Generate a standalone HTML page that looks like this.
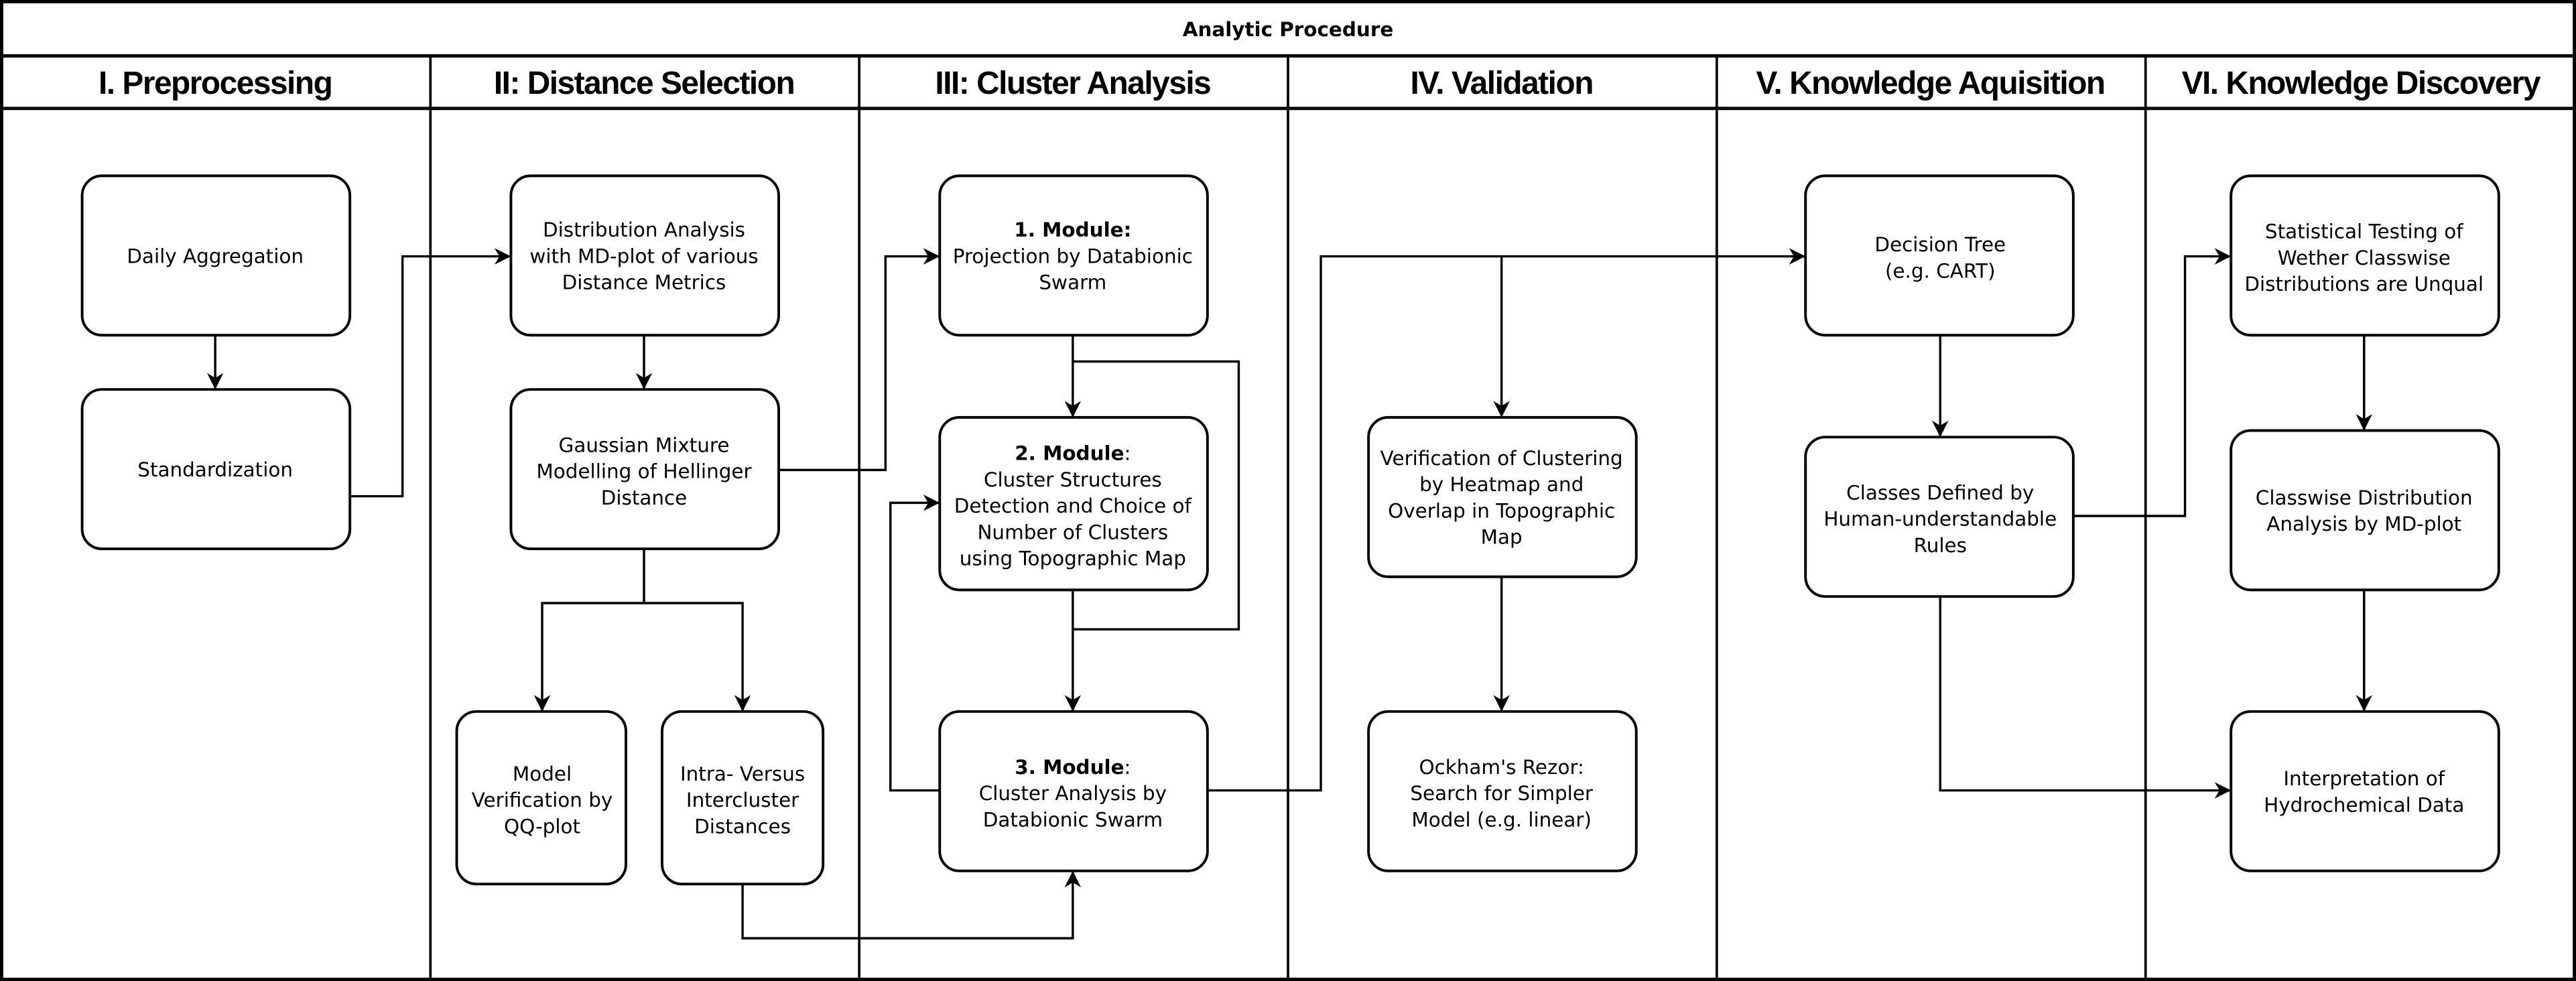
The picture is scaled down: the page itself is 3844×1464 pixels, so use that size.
<!DOCTYPE html>
<html><head><meta charset="utf-8"><style>
html,body{margin:0;padding:0;background:#fff;}
svg{display:block;}
.t{font-family:"DejaVu Sans","Liberation Sans",sans-serif;font-size:12px;text-anchor:middle;fill:#000;}
.h{font-family:"Liberation Sans",sans-serif;font-weight:bold;font-size:19.5px;text-anchor:middle;fill:#000;letter-spacing:-0.6px;}
.b{fill:#fff;stroke:#000;stroke-width:1.6;}
.e{fill:none;stroke:#000;stroke-width:1.4;}
</style></head><body>
<svg width="3844" height="1464" viewBox="0 0 1568 597" preserveAspectRatio="none" xmlns="http://www.w3.org/2000/svg">
<defs>
<marker id="a" viewBox="0 0 10 10" refX="10" refY="5" markerWidth="11" markerHeight="10" markerUnits="userSpaceOnUse" orient="auto">
<path d="M0,0 L10,5 L0,10 L3,5 Z" fill="#000"/>
</marker>
</defs>
<rect x="0" y="0" width="1568" height="597" fill="#fff"/>
<rect x="1" y="1" width="1566" height="595" fill="none" stroke="#000" stroke-width="2"/>
<line x1="0" y1="34" x2="1568" y2="34" stroke="#000" stroke-width="2"/>
<line x1="0" y1="66" x2="1568" y2="66" stroke="#000" stroke-width="2"/>
<g stroke="#000" stroke-width="1.5">
<line x1="262" y1="34" x2="262" y2="597"/>
<line x1="523" y1="34" x2="523" y2="597"/>
<line x1="784" y1="34" x2="784" y2="597"/>
<line x1="1045" y1="34" x2="1045" y2="597"/>
<line x1="1306" y1="34" x2="1306" y2="597"/>
</g>
<text x="784" y="22" class="t" style="font-weight:bold;font-size:12px">Analytic Procedure</text>
<text x="131" y="57" class="h">I. Preprocessing</text>
<text x="392" y="57" class="h">II: Distance Selection</text>
<text x="653" y="57" class="h">III: Cluster Analysis</text>
<text x="914" y="57" class="h">IV. Validation</text>
<text x="1175" y="57" class="h">V. Knowledge Aquisition</text>
<text x="1437" y="57" class="h">VI. Knowledge Discovery</text>

<g class="e" marker-end="url(#a)">
<path d="M131,204 V237"/>
<path d="M213,302 H245 V156 H311"/>
<path d="M392,204 V237"/>
<path d="M474,286 H539 V156 H572"/>
<path d="M392,334 V367 H330 V433"/>
<path d="M392,367 H452 V433"/>
<path d="M452,538 V571 H653 V530"/>
<path d="M653,204 V254"/>
<path d="M653,359 V433"/>
<path d="M572,481 H542 V306 H572"/>
<path d="M735,481 H804 V156 H1099"/>
<path d="M914,156 V254"/>
<path d="M914,351 V433"/>
<path d="M1181,204 V266"/>
<path d="M1262,314 H1330 V156 H1358"/>
<path d="M1181,363 V481 H1358"/>
<path d="M1439,204 V262"/>
<path d="M1439,359 V433"/>
</g>
<path class="e" d="M653,220 H754 V383 H653"/>

<g class="b">
<rect x="50" y="107" width="163" height="97" rx="12"/>
<rect x="50" y="237" width="163" height="97" rx="12"/>
<rect x="311" y="107" width="163" height="97" rx="12"/>
<rect x="311" y="237" width="163" height="97" rx="12"/>
<rect x="278" y="433" width="103" height="105" rx="12"/>
<rect x="403" y="433" width="98" height="105" rx="12"/>
<rect x="572" y="107" width="163" height="97" rx="12"/>
<rect x="572" y="254" width="163" height="105" rx="12"/>
<rect x="572" y="433" width="163" height="97" rx="12"/>
<rect x="833" y="254" width="163" height="97" rx="12"/>
<rect x="833" y="433" width="163" height="97" rx="12"/>
<rect x="1099" y="107" width="163" height="97" rx="12"/>
<rect x="1099" y="266" width="163" height="97" rx="12"/>
<rect x="1358" y="107" width="163" height="97" rx="12"/>
<rect x="1358" y="262" width="163" height="97" rx="12"/>
<rect x="1358" y="433" width="163" height="97" rx="12"/>
</g>

<text class="t" x="131" y="160">Daily Aggregation</text>
<text class="t" x="131" y="290">Standardization</text>
<text class="t" x="392"><tspan x="392" y="144">Distribution Analysis</tspan><tspan x="392" y="160">with MD-plot of various</tspan><tspan x="392" y="176">Distance Metrics</tspan></text>
<text class="t" x="392"><tspan x="392" y="275">Gaussian Mixture</tspan><tspan x="392" y="291">Modelling of Hellinger</tspan><tspan x="392" y="307">Distance</tspan></text>
<text class="t" x="330"><tspan x="330" y="475">Model</tspan><tspan x="330" y="491">Verification by</tspan><tspan x="330" y="507">QQ-plot</tspan></text>
<text class="t" x="452"><tspan x="452" y="475">Intra- Versus</tspan><tspan x="452" y="491">Intercluster</tspan><tspan x="452" y="507">Distances</tspan></text>
<text class="t" x="653"><tspan x="653" y="144" font-weight="bold">1. Module:</tspan><tspan x="653" y="160">Projection by Databionic</tspan><tspan x="653" y="176">Swarm</tspan></text>
<text class="t" x="653"><tspan x="653" y="280"><tspan font-weight="bold">2. Module</tspan>:</tspan><tspan x="653" y="296">Cluster Structures</tspan><tspan x="653" y="312">Detection and Choice of</tspan><tspan x="653" y="328">Number of Clusters</tspan><tspan x="653" y="344">using Topographic Map</tspan></text>
<text class="t" x="653"><tspan x="653" y="471"><tspan font-weight="bold">3. Module</tspan>:</tspan><tspan x="653" y="487">Cluster Analysis by</tspan><tspan x="653" y="503">Databionic Swarm</tspan></text>
<text class="t" x="914"><tspan x="914" y="283">Verification of Clustering</tspan><tspan x="914" y="299">by Heatmap and</tspan><tspan x="914" y="315">Overlap in Topographic</tspan><tspan x="914" y="331">Map</tspan></text>
<text class="t" x="914"><tspan x="914" y="471">Ockham's Rezor:</tspan><tspan x="914" y="487">Search for Simpler</tspan><tspan x="914" y="503">Model (e.g. linear)</tspan></text>
<text class="t" x="1181"><tspan x="1181" y="153">Decision Tree</tspan><tspan x="1181" y="169">(e.g. CART)</tspan></text>
<text class="t" x="1181"><tspan x="1181" y="304">Classes Defined by</tspan><tspan x="1181" y="320">Human-understandable</tspan><tspan x="1181" y="336">Rules</tspan></text>
<text class="t" x="1439"><tspan x="1439" y="145">Statistical Testing of</tspan><tspan x="1439" y="161">Wether Classwise</tspan><tspan x="1439" y="177">Distributions are Unqual</tspan></text>
<text class="t" x="1439"><tspan x="1439" y="307">Classwise Distribution</tspan><tspan x="1439" y="323">Analysis by MD-plot</tspan></text>
<text class="t" x="1439"><tspan x="1439" y="478">Interpretation of</tspan><tspan x="1439" y="494">Hydrochemical Data</tspan></text>
</svg>
</body></html>
